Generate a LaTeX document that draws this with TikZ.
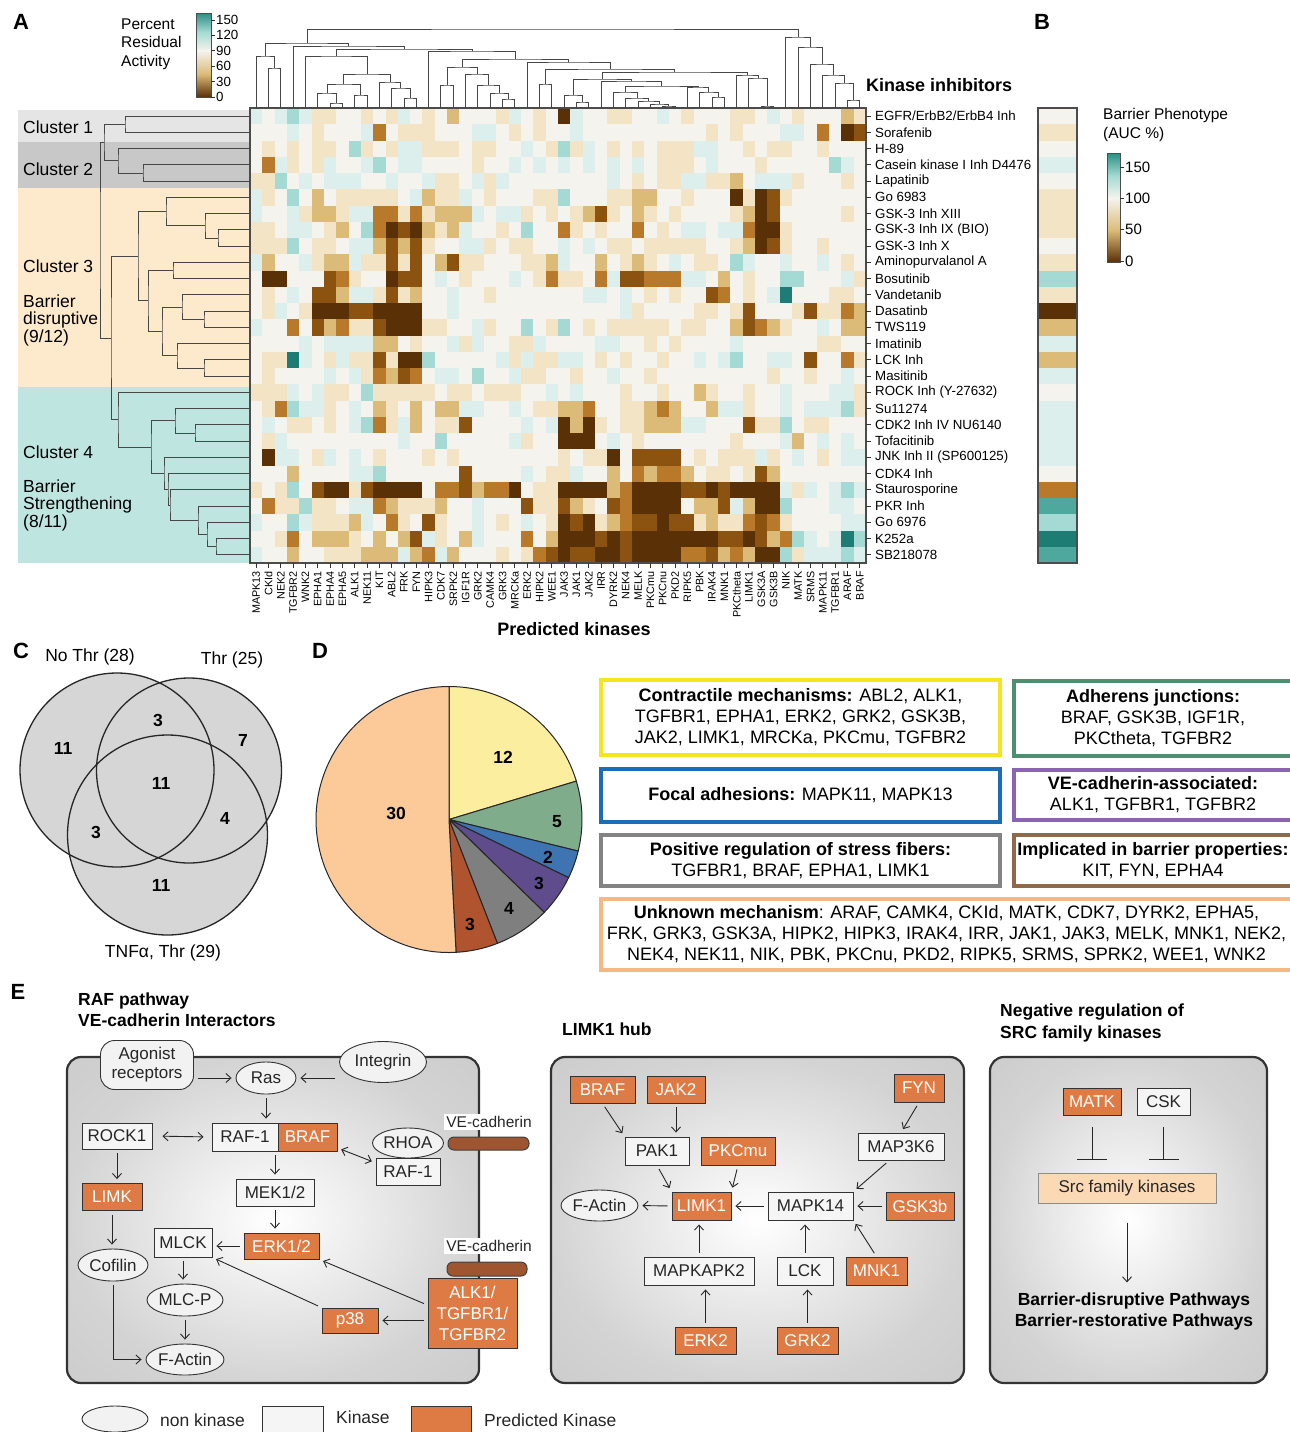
\documentclass[tikz,border=0pt]{standalone}
\usepackage{fontspec}
\setmainfont{Liberation Sans}
\usetikzlibrary{arrows.meta,shapes.geometric,calc}

\definecolor{hm0}{HTML}{5A3007}
\definecolor{hm1}{HTML}{8C520F}
\definecolor{hm2}{HTML}{B8792B}
\definecolor{hm3}{HTML}{DCBB78}
\definecolor{hm4}{HTML}{F2E4C4}
\definecolor{hm5}{HTML}{F5F3EE}
\definecolor{hm6}{HTML}{DDEFEC}
\definecolor{hm7}{HTML}{A4DAD3}
\definecolor{hm8}{HTML}{4FA89E}
\definecolor{hm9}{HTML}{1D7D74}
\definecolor{teal150}{HTML}{2A8E84}
\definecolor{clu1}{HTML}{E5E5E5}
\definecolor{clu2}{HTML}{C8C8C8}
\definecolor{clu3}{HTML}{FDE9CB}
\definecolor{clu4}{HTML}{BFE5E1}
\definecolor{vgray}{HTML}{D6D6D6}
\definecolor{pyel}{HTML}{FBEE9E}
\definecolor{pgrn}{HTML}{7FAD8B}
\definecolor{pblu}{HTML}{3D74B1}
\definecolor{ppur}{HTML}{5E4C8C}
\definecolor{pgry}{HTML}{7F7F7F}
\definecolor{pred}{HTML}{B0532F}
\definecolor{pora}{HTML}{FCC998}
\definecolor{byel}{HTML}{F5E51A}
\definecolor{bgrn}{HTML}{4E8F71}
\definecolor{bblu}{HTML}{1B6DB7}
\definecolor{bpur}{HTML}{8C62B2}
\definecolor{bgry}{HTML}{838383}
\definecolor{bbrn}{HTML}{8E6A4B}
\definecolor{bora}{HTML}{F6B781}
\definecolor{kinorange}{HTML}{DE7B45}
\definecolor{cadbrown}{HTML}{9E5530}
\definecolor{srcfill}{HTML}{FCD9B5}

\pgfdeclareradialshading{panelshade}{\pgfpoint{0bp}{0bp}}{color(0bp)=(white); color(25bp)=(black!17); color(36bp)=(black!20); color(50bp)=(black!20)}

\begin{document}
\begin{tikzpicture}[x=1pt, y=-1pt,
  rowlab/.style={anchor=west, inner sep=0pt, font=\fontsize{13.3}{15}\selectfont},
  collab/.style={anchor=east, rotate=90, inner sep=0pt, font=\fontsize{10.8}{12}\selectfont},
  ticklab/.style={anchor=west, inner sep=0pt, font=\fontsize{13.3}{15}\selectfont},
  legtitle/.style={anchor=west, align=left, inner sep=0pt, font=\fontsize{15.5}{18.5}\selectfont},
  clus/.style={anchor=west, align=left, inner sep=0pt, font=\fontsize{17.5}{17.5}\selectfont},
  axtitle/.style={inner sep=0pt, font=\bfseries\fontsize{18}{20}\selectfont},
  panlet/.style={inner sep=0pt, font=\bfseries\fontsize{22}{24}\selectfont},
  dend/.style={draw=black!72, line width=1pt},
  tk/.style={draw=black!80, line width=1pt},
  hmframe/.style={draw=black!70, line width=1.2pt},
  vennring/.style={draw=black!85, line width=1.3pt},
  vlab/.style={inner sep=0pt, font=\fontsize{17.5}{20}\selectfont},
  vnum/.style={inner sep=0pt, font=\bfseries\fontsize{17.5}{20}\selectfont},
  slice/.style={draw=black!85, line width=1pt},
  catbox/.style={draw, line width=4.5pt, align=center, inner sep=0pt, font=\fontsize{18}{21}\selectfont},
  panel/.style={draw=black!80, line width=2.2pt, rounded corners=14pt, shading=panelshade},
  kin/.style={draw=black!80, fill=black!4, line width=0.9pt, inner sep=1pt, minimum height=27pt, text=black!85, font=\fontsize{17}{19}\selectfont},
  pkin/.style={kin, fill=kinorange, text=white},
  nonkin/.style={ellipse, draw=black!80, fill=black!5, line width=0.9pt, inner sep=0pt, text=black!85, font=\fontsize{17}{19}\selectfont},
  agonbox/.style={draw=black!80, fill=black!5, line width=0.9pt, rounded corners=14pt, align=center, inner sep=1pt, text=black!85, font=\fontsize{17}{19}\selectfont},
  srcbox/.style={draw=black!45, fill=srcfill, line width=1pt, inner sep=1pt, text=black!85, font=\fontsize{17}{19}\selectfont},
  arr/.style={-{Straight Barb[length=5pt,width=9pt]}, draw=black!85, line width=0.9pt, shorten >=4pt, shorten <=4pt},
  arr2/.style={arr, {Straight Barb[length=5pt,width=9pt]}-{Straight Barb[length=5pt,width=9pt]}},
  inh/.style={-{Bar[width=30pt]}, draw=black!85, line width=0.9pt},
  etitle/.style={anchor=west, align=left, inner sep=0pt, font=\bfseries\fontsize{17.5}{21.5}\selectfont},
  cadh/.style={fill=cadbrown, draw=black!75, line width=1pt, rounded corners=6pt},
  cadlab/.style={fill=white, inner sep=2pt, text=black!85, font=\fontsize{15.5}{17}\selectfont},
  leglab/.style={anchor=west, inner sep=0pt, text=black!85, font=\fontsize{17.5}{20}\selectfont}
]
\useasboundingbox (0,0) rectangle (1290,1432);

% ---------------- panel A ----------------
\node[panlet] (letA) at (21,22) {A};
\node[panlet] (letB) at (1042,22) {B};

% colour key
\node[legtitle] (keytitle) at (121,44) {Percent\\Residual\\Activity};
\shade[top color=teal150, bottom color=hm5, middle color=hm7] (196,13) rectangle (211,50.8);
\shade[top color=hm5, bottom color=hm0, middle color=hm3] (196,50.8) rectangle (211,97);
\draw[hmframe, line width=0.8pt] (196,13) rectangle (211,97);
\foreach \val/\yy [count=\k] in {150/20,120/35.4,90/50.8,60/66.2,30/81.6,0/97} {
  \draw[tk] (211,\yy) -- (215,\yy);
  \node[ticklab] (cba\k) at (216,\yy) {\val};
}

% cluster bands
\fill[clu1] (18,110) rectangle (250,141.5);
\fill[clu2] (18,141.5) rectangle (250,188);
\fill[clu3] (18,188) rectangle (250,387);
\fill[clu4] (18,387) rectangle (250,563);
\node[clus] (cl1) at (23,127) {Cluster 1};
\node[clus] (cl2) at (23,169) {Cluster 2};
\node[clus] (cl3) at (23,266) {Cluster 3};
\node[clus] (cl3b) at (23,320) {Barrier\\disruptive\\(9/12)};
\node[clus] (cl4) at (23,452) {Cluster 4};
\node[clus] (cl4b) at (23,505) {Barrier\\Strengthening\\(8/11)};

% heatmap
\foreach \rowvals [count=\i] in {
 {6,5,6,7,6,4,4,5,5,4,5,4,6,5,4,5,3,5,5,5,4,6,5,4,5,0,6,5,5,4,4,5,5,6,5,4,5,5,5,4,4,5,6,5,4,5,5,5,3,4},
 {5,5,5,6,5,4,5,5,5,6,2,5,4,4,4,5,5,5,6,6,5,4,5,4,5,5,6,5,5,5,5,5,5,5,5,5,5,4,5,4,5,5,5,6,6,5,2,5,0,1},
 {5,4,5,4,5,4,4,5,7,4,5,4,6,6,4,4,4,5,4,4,5,5,6,5,4,7,4,6,5,4,5,4,5,4,4,4,6,6,5,5,4,5,4,4,5,5,4,5,5,5},
 {5,2,6,4,5,4,6,5,5,6,7,5,6,6,5,5,5,5,4,5,5,6,5,6,5,6,5,6,5,6,5,6,5,4,4,4,5,6,5,5,5,4,5,5,5,5,5,7,6,5},
 {4,4,7,5,6,5,6,6,6,5,5,6,5,5,6,4,4,5,6,4,6,5,5,5,5,5,5,5,5,6,5,4,5,4,4,6,6,4,4,3,5,6,6,6,4,5,5,5,4,5},
 {6,4,5,7,5,3,5,4,4,4,4,4,5,6,3,4,4,6,5,4,5,5,5,4,4,7,5,5,5,4,4,3,3,5,5,4,5,5,5,0,4,0,1,4,5,5,5,5,5,5},
 {6,5,5,6,4,3,3,4,6,6,2,2,4,2,4,3,3,3,6,5,6,6,4,5,4,5,4,3,1,4,5,3,4,5,4,5,5,5,5,4,3,0,1,5,5,5,5,5,4,5},
 {4,4,5,6,6,5,4,3,5,7,2,0,1,0,3,4,3,6,5,5,4,5,7,5,5,2,4,5,4,5,5,2,5,4,5,6,6,5,6,6,2,0,0,4,5,5,5,5,5,5},
 {4,4,4,7,5,4,4,5,6,6,3,1,3,1,4,5,5,6,6,4,5,4,4,5,5,6,5,6,5,4,4,5,4,4,4,4,4,5,5,4,3,0,1,4,5,5,4,5,5,5},
 {6,3,5,5,6,4,3,3,6,4,4,1,4,1,5,3,1,4,4,5,5,5,4,4,3,6,5,5,3,5,4,3,4,5,6,5,4,4,5,7,6,5,5,6,5,5,6,5,4,5},
 {5,0,0,5,5,5,1,2,4,5,5,0,1,1,5,6,5,4,5,5,5,6,5,4,2,4,4,5,2,6,1,1,2,2,2,6,6,5,3,5,4,5,5,7,7,5,5,5,6,4},
 {5,4,5,6,5,1,1,3,6,6,4,1,4,3,5,5,6,5,5,4,5,5,5,5,5,5,5,6,6,5,6,5,4,5,4,5,5,1,2,5,4,5,6,9,5,5,5,4,4,5},
 {5,4,6,5,4,0,0,0,1,1,0,0,0,0,5,5,6,5,5,5,5,5,5,5,5,5,5,5,5,5,6,4,5,5,5,5,4,4,5,4,1,5,5,5,4,1,4,4,2,3},
 {6,5,5,2,5,1,3,2,4,4,1,0,0,0,4,4,5,5,6,4,5,5,7,5,4,7,5,4,5,4,4,4,4,4,5,4,4,5,5,3,1,2,3,4,5,5,6,5,3,3},
 {5,5,5,5,6,5,6,6,6,6,3,3,5,4,5,5,6,4,6,5,5,4,4,6,5,5,5,5,6,6,5,5,4,5,4,5,5,5,5,6,5,5,5,5,5,5,4,4,5,5},
 {5,4,4,9,6,5,4,6,4,4,1,4,0,0,7,5,5,5,5,5,6,4,6,4,4,6,6,5,4,5,4,5,5,4,5,5,6,5,6,7,5,5,6,6,5,1,5,5,2,4},
 {5,4,5,5,5,5,6,5,6,4,2,3,1,2,5,6,6,5,7,5,5,6,4,4,5,5,4,5,5,6,5,5,4,5,5,5,5,5,5,5,5,5,4,5,5,4,5,5,6,5},
 {4,4,4,6,5,6,4,4,5,7,4,4,4,4,4,5,4,4,5,4,4,4,5,5,6,5,6,5,5,5,4,5,5,4,5,5,3,4,5,5,4,5,5,6,5,5,5,6,6,4},
 {5,4,2,7,6,6,4,5,6,5,3,4,5,3,5,3,3,6,6,5,5,6,5,4,4,3,3,2,5,5,4,4,3,2,3,5,5,3,6,6,4,5,5,6,5,6,6,6,7,4},
 {5,6,5,4,4,5,4,5,6,7,2,4,6,3,5,4,4,1,5,5,5,5,6,5,6,0,3,0,4,5,4,4,3,3,3,6,6,5,5,5,1,4,4,7,5,4,4,5,5,5},
 {5,4,6,5,5,5,5,5,5,5,5,5,6,5,5,7,5,5,5,5,5,6,4,5,5,0,0,0,5,6,5,4,5,5,5,5,5,5,5,4,5,5,5,6,3,5,6,5,6,5},
 {5,0,6,6,5,4,6,5,6,5,4,5,5,5,4,5,4,5,5,5,5,5,5,5,5,4,5,4,4,0,5,1,1,1,1,5,4,5,4,4,4,6,4,5,6,5,4,5,6,6},
 {5,5,5,3,5,5,5,5,6,6,7,5,5,5,5,5,5,1,5,5,5,5,6,5,4,4,6,5,5,3,5,2,3,2,2,3,5,4,4,5,4,1,3,5,5,5,5,5,5,5},
 {4,5,4,7,5,1,0,0,4,1,0,0,0,0,5,2,2,1,3,2,2,0,5,4,4,0,0,0,0,3,2,0,0,0,0,1,1,0,1,0,0,0,0,6,4,6,5,6,7,6},
 {5,2,4,4,7,4,4,5,6,6,2,3,4,4,4,3,5,5,6,5,5,5,1,4,4,1,3,4,5,1,2,0,0,0,0,5,3,3,1,6,3,0,0,7,5,5,5,6,6,5},
 {6,5,5,7,6,4,4,4,3,6,5,2,4,5,1,4,5,5,6,5,4,5,6,5,4,0,1,0,4,3,2,1,1,0,1,1,4,3,4,4,2,1,2,4,5,5,5,5,6,6},
 {5,5,4,2,5,3,3,3,4,5,3,5,3,1,6,4,5,3,6,5,5,5,2,5,3,0,0,0,1,0,1,0,0,0,0,0,0,0,1,1,0,1,3,2,7,6,5,6,9,7},
 {6,5,5,3,5,5,4,4,4,3,3,3,6,3,2,6,3,5,5,5,4,5,4,2,1,0,1,1,0,0,1,0,0,0,0,2,2,1,3,2,3,0,0,7,4,6,6,6,7,6}}{
  \foreach \lv [count=\j] in \rowvals
    \fill[hm\lv] ({250+(\j-1)*12.32},{108+(\i-1)*16.25}) rectangle ++(12.62,16.55);
}
\draw[hmframe] (250,108) rectangle (866,563);

% inhibitor labels
\foreach \lab [count=\i] in {EGFR/ErbB2/ErbB4 Inh, Sorafenib, H-89, Casein kinase I Inh D4476, Lapatinib, Go 6983, GSK-3 Inh XIII, GSK-3 Inh IX (BIO), GSK-3 Inh X, Aminopurvalanol A, Bosutinib, Vandetanib, Dasatinb, TWS119, Imatinib, LCK Inh, Masitinib, ROCK Inh (Y-27632), Su11274, CDK2 Inh IV NU6140, Tofacitinib, JNK Inh II (SP600125), CDK4 Inh, Staurosporine, PKR Inh, Go 6976, K252a, SB218078} {
  \draw[tk] (866,{108+(\i-.5)*16.25}) -- ++(5,0);
  \node[rowlab] (inh\i) at (875,{108+(\i-.5)*16.25}) {\lab};
}

% kinase labels
\foreach \lab [count=\j] in {MAPK13, CKId, NEK2, TGFBR2, WNK2, EPHA1, EPHA4, EPHA5, ALK1, NEK11, KIT, ABL2, FRK, FYN, HIPK3, CDK7, SRPK2, IGF1R, GRK2, CAMK4, GRK3, MRCKa, ERK2, HIPK2, WEE1, JAK3, JAK1, JAK2, IRR, DYRK2, NEK4, MELK, PKCmu, PKCnu, PKD2, RIPK5, PBK, IRAK4, MNK1, PKCtheta, LIMK1, GSK3A, GSK3B, NIK, MATK, SRMS, MAPK11, TGFBR1, ARAF, BRAF} {
  \draw[tk] ({250+(\j-.5)*12.32},563) -- ++(0,5);
  \node[collab] (kin\j) at ({250+(\j-.5)*12.32},571) {\lab};
}
\node[axtitle, anchor=west] (kinhib) at (866,85) {Kinase inhibitors};
\node[axtitle] (predk) at (574,629) {Predicted kinases};

% top dendrogram
\foreach \j in {1,...,50}
  \coordinate (t\j) at ({250+(\j-.5)*12.32},108);
\foreach \nm/\ka/\kb/\hh in {ta/t2/t3/68, tb/t1/ta/56, tc/t7/t8/103, td/t6/tc/93, tk/t9/t10/95, te/td/tk/84,
  tf/t13/t14/98, tg/t12/tf/88, th/t11/tg/82, ti/te/th/74, tj/t5/ti/56,
  m1/t21/t22/99, m2/t20/m1/93, m3/t19/m2/85, m4/t18/m3/74, m5/t16/t17/85, m6/m5/m4/67,
  x2728/t27/t28/102, xP/t26/x2728/95, x3435/t34/t35/106, xVV/t33/x3435/104, xV/t32/xVV/101,
  xU/t31/xV/98, xS/t30/xU/92, x3839/t38/t39/97, xT2/t37/x3839/92, xT/t36/xT2/87, xR/xS/xT/86,
  xQ/t29/xR/81, xZ/xP/xQ/79, x4243/t42/t43/106, xW2/t41/x4243/78, xW/t40/xW2/75, xY/xZ/xW/72,
  x2425/t24/t25/84, xB/x2425/xY/69, xX/t23/xB/62, m7/m6/xX/59, tK/t15/m7/51, tn1/tj/tK/49,
  tL2/t4/tn1/46, tL/tb/tL2/43, r6/t49/t50/100, r5/t48/r6/83, r4/t47/r5/75, r3/t46/r4/64,
  r2/t45/r3/47, rt/t44/r2/37, troot/tL/rt/29} {
  \path let \p1=(\ka), \p2=(\kb) in coordinate (\nm) at ({(\x1+\x2)/2},{-\hh*1pt});
  \draw[dend] (\ka) |- (\nm) -| (\kb);
}

% side dendrogram
\foreach \i in {1,...,28}
  \coordinate (l\i) at (250,{108+(\i-.5)*16.25});
\foreach \nm/\ka/\kb/\hh in {g1/l1/l2/125, g2a/l4/l5/143, g2/l3/g2a/118,
  a89/l8/l9/218, a79/l7/a89/205, gA/l6/a79/166, b1011/l10/l11/173, b1314/l13/l14/204,
  b1214/l12/b1314/182, b1617/l16/l17/204, b1517/l15/b1617/177, b1217/b1214/b1517/162,
  gB/b1011/b1217/148, g3/gA/gB/138, c2021/l20/l21/195, c1921/l19/c2021/175,
  c2728/l27/l28/216, c2628/l26/c2728/207, c2528/l25/c2628/198, c2428/l24/c2528/170,
  c2328/l23/c2428/168, c2228/l22/c2328/164, c1928/c1921/c2228/151, g4/l18/c1928/118,
  g34/g3/g4/111, g12/g1/g2/104, groot/g12/g34/100} {
  \path let \p1=(\ka), \p2=(\kb) in coordinate (\nm) at ({\hh*1pt},{(\y1+\y2)/2});
  \draw[dend] (\ka) -| (\nm) |- (\kb);
}

% barrier phenotype bar
\foreach \lv [count=\i] in {5,4,5,6,5,4,4,4,5,4,7,4,0,3,6,3,6,5,6,6,6,6,5,2,8,7,9,8}
  \fill[hm\lv] (1038,{108+(\i-1)*16.25}) rectangle ++(39,16.55);
\draw[hmframe] (1038,108) rectangle (1077,563);
\node[legtitle] (bptitle) at (1103,125) {Barrier Phenotype\\(AUC \%)};
\shade[top color=teal150, bottom color=hm5, middle color=hm7] (1107,153) rectangle (1120,198.3);
\shade[top color=hm5, bottom color=hm0, middle color=hm3] (1107,198.3) rectangle (1120,262);
\draw[hmframe, line width=0.8pt] (1107,153) rectangle (1120,262);
\foreach \val/\yy [count=\k] in {150/167,100/198.3,50/229.7,0/261} {
  \draw[tk] (1120,\yy) -- (1124,\yy);
  \node[ticklab, font=\fontsize{15}{17}\selectfont] (cbb\k) at (1125,\yy) {\val};
}

% ---------------- panel C ----------------
\node[panlet] (letC) at (21,651) {C};
\fill[vgray] (117,770) circle[radius=97];
\fill[vgray] (189,770.5) circle[radius=92.5];
\fill[vgray] (167.5,835) circle[radius=100];
\draw[vennring] (117,770) circle[radius=97];
\draw[vennring] (189,770.5) circle[radius=92.5];
\draw[vennring] (167.5,835) circle[radius=100];
\node[vlab] (vnothr) at (90,657) {No Thr (28)};
\node[vlab] (vthr) at (232,660) {Thr (25)};
\node[vlab] (vtnf) at (163,953) {TNFα, Thr (29)};
\node[vnum] (v1) at (63,748) {11};
\node[vnum] (v2) at (158,720) {3};
\node[vnum] (v3) at (243,740) {7};
\node[vnum] (v4) at (161,783) {11};
\node[vnum] (v5) at (96,832) {3};
\node[vnum] (v6) at (225,818) {4};
\node[vnum] (v7) at (161,885) {11};

% ---------------- panel D ----------------
\node[panlet] (letD) at (320,651) {D};
\foreach \sa/\sb/\col in {-90/-16.78/pyel, -16.78/13.73/pgrn, 13.73/25.93/pblu, 25.93/44.24/ppur, 44.24/68.65/pgry, 68.65/86.96/pred, 86.96/270/pora}
  \filldraw[slice, fill=\col] (449,819.5) -- ++(\sa:133) arc[start angle=\sa, end angle=\sb, radius=133] -- cycle;
\node[vnum] (pn1) at (503,757) {12};
\node[vnum] (pn2) at (557,822) {5};
\node[vnum] (pn3) at (548,857) {2};
\node[vnum] (pn4) at (539,883) {3};
\node[vnum] (pn5) at (509,908) {4};
\node[vnum] (pn6) at (470,924) {3};
\node[vnum] (pn7) at (396,813) {30};

\node[catbox, draw=byel, minimum width=399pt, minimum height=75pt] (contr) at (800.5,717.5)
  {\textbf{Contractile mechanisms:} ABL2, ALK1,\\TGFBR1, EPHA1, ERK2, GRK2, GSK3B,\\JAK2, LIMK1, MRCKa, PKCmu, TGFBR2};
\node[catbox, draw=bgrn, minimum width=278pt, minimum height=75pt] (adher) at (1153,718.5)
  {\textbf{Adherens junctions:}\\BRAF, GSK3B, IGF1R,\\PKCtheta, TGFBR2};
\node[catbox, draw=bblu, minimum width=399pt, minimum height=53pt] (focal) at (800.5,795.5)
  {\textbf{Focal adhesions:} MAPK11, MAPK13};
\node[catbox, draw=bpur, minimum width=278pt, minimum height=50pt] (vecad) at (1153,795)
  {\textbf{VE-cadherin-associated:}\\ALK1, TGFBR1, TGFBR2};
\node[catbox, draw=bgry, minimum width=399pt, minimum height=51pt] (stress) at (800.5,860.5)
  {\textbf{Positive regulation of stress fibers:}\\TGFBR1, BRAF, EPHA1, LIMK1};
\node[catbox, draw=bbrn, minimum width=278pt, minimum height=51pt] (implic) at (1153,860.5)
  {\textbf{Implicated in barrier properties:}\\KIT, FYN, EPHA4};
\node[catbox, draw=bora, minimum width=691pt, minimum height=71pt] (unknown) at (946.5,934.5)
  {\textbf{Unknown mechanism}: ARAF, CAMK4, CKId, MATK, CDK7, DYRK2, EPHA5,\\FRK, GRK3, GSK3A, HIPK2, HIPK3, IRAK4, IRR, JAK1, JAK3, MELK, MNK1, NEK2,\\NEK4, NEK11, NIK, PBK, PKCnu, PKD2, RIPK5, SRMS, SPRK2, WEE1, WNK2};

% ---------------- panel E ----------------
\node[panlet] (letE) at (18,992) {E};
\node[etitle] (raftitle) at (78,1009.5) {RAF pathway\\VE-cadherin Interactors};
\node[etitle] (limktitle) at (562,1029) {LIMK1 hub};
\node[etitle] (srctitle) at (1000,1023) {Negative regulation of\\SRC family kinases};

\shadedraw[panel] (67,1057) rectangle (479,1383);
\shadedraw[panel] (551,1057) rectangle (964,1383);
\shadedraw[panel] (990,1057) rectangle (1267,1383);

% RAF pathway
\node[agonbox, minimum width=93pt, minimum height=49pt] (agon) at (147,1065) {Agonist\\receptors};
\node[nonkin, minimum width=87pt, minimum height=41pt] (integ) at (383,1062) {Integrin};
\node[nonkin, minimum width=60pt, minimum height=32pt] (ras) at (266,1078) {Ras};
\node[kin, minimum width=66pt, minimum height=28pt] (raf1) at (245,1137) {RAF-1};
\node[pkin, minimum width=59pt, minimum height=28pt] (braf1) at (307.5,1137) {BRAF};
\node[kin, minimum width=70pt, minimum height=26pt] (rock) at (117,1136) {ROCK1};
\node[nonkin, minimum width=71pt, minimum height=30pt] (rhoa) at (408,1143) {RHOA};
\node[kin, minimum width=64pt, minimum height=27pt] (raf1b) at (408,1171.5) {RAF-1};
\node[cadlab] (vec1) at (489,1122) {VE-cadherin};
\draw[cadh] (448,1137) rectangle (529,1150);
\node[pkin, minimum width=60pt, minimum height=27pt] (limk) at (112,1197) {LIMK};
\node[nonkin, minimum width=70pt, minimum height=32pt] (cof) at (113,1265) {Cofilin};
\node[kin, minimum width=78pt, minimum height=27pt] (mek) at (275,1192.5) {MEK1/2};
\node[pkin, minimum width=75pt, minimum height=26pt] (erk12) at (281.5,1246) {ERK1/2};
\node[kin, minimum width=58pt, minimum height=29pt] (mlck) at (183,1242.5) {MLCK};
\node[nonkin, minimum width=76pt, minimum height=32pt] (mlcp) at (185,1300) {MLC-P};
\node[nonkin, minimum width=78pt, minimum height=31pt] (fact1) at (185,1359.5) {F-Actin};
\node[cadlab] (vec2) at (489,1246) {VE-cadherin};
\draw[cadh] (447,1262) rectangle (527,1276);
\node[pkin, align=center, minimum width=89pt, minimum height=70pt, font=\fontsize{17}{21}\selectfont] (alk) at (472.5,1313) {ALK1/\\TGFBR1/\\TGFBR2};
\node[pkin, minimum width=56pt, minimum height=25pt] (p38) at (350,1320.5) {p38};

\draw[arr] (agon.east |- ras) -- (ras.west);
\draw[arr] (integ.west |- ras) -- (ras.east);
\draw[arr] (ras.south) -- (ras.south |- raf1.north);
\draw[arr2, shorten <=10pt, shorten >=8pt] (rock.east) -- (raf1.west);
\draw[arr2] (braf1.-20) -- (raf1b.165);
\draw[arr] (rock.south) -- (rock.south |- limk.north);
\draw[arr] (limk.south) -- (limk.south |- cof.north);
\draw[arr] (mek.north |- raf1.south) -- (mek.north);
\draw[arr] (mek.south) -- (mek.south |- erk12.north);
\draw[arr] (erk12.west) -- (erk12.west -| mlck.east);
\draw[arr] (mlck.south) -- (mlck.south |- mlcp.north);
\draw[arr] (mlcp.south) -- (fact1.north);
\draw[arr] (cof.south) |- (fact1.west);
\draw[arr] (alk.170) -- (erk12.south east);
\draw[arr] (alk.west |- p38) -- (p38.east);
\draw[arr] (p38.north west) -- (mlck.south east);

% LIMK1 hub
\node[pkin, minimum width=65pt] (braf2) at (602.5,1089.5) {BRAF};
\node[pkin, minimum width=58pt] (jak2) at (676,1089.5) {JAK2};
\node[pkin, minimum width=50pt, minimum height=28pt] (fyn) at (919,1088) {FYN};
\node[kin, minimum width=64pt, minimum height=28pt] (pak1) at (657,1151) {PAK1};
\node[pkin, minimum width=74pt, minimum height=28pt] (pkcmu) at (738,1151) {PKCmu};
\node[kin, minimum width=86pt] (map3k6) at (901,1146.5) {MAP3K6};
\node[nonkin, minimum width=77pt, minimum height=31pt] (fact2) at (599.5,1205.5) {F-Actin};
\node[pkin, minimum width=59pt, minimum height=28pt] (limk1) at (701.5,1206) {LIMK1};
\node[kin, minimum width=85pt, minimum height=28pt] (mapk14) at (810.5,1206) {MAPK14};
\node[pkin, minimum width=68pt, minimum height=28pt] (gsk3b) at (920,1206) {GSK3b};
\node[kin, minimum width=110pt, minimum height=28pt] (mapkapk2) at (699,1271) {MAPKAPK2};
\node[kin, minimum width=56pt, minimum height=28pt] (lck) at (805,1271) {LCK};
\node[pkin, minimum width=61pt, minimum height=28pt] (mnk1) at (876.5,1271) {MNK1};
\node[pkin, minimum width=61pt] (erk2) at (705.5,1340.5) {ERK2};
\node[pkin, minimum width=61pt] (grk2) at (807.5,1340.5) {GRK2};

\draw[arr] (braf2.south) -- (pak1.north west);
\draw[arr] (jak2.south) -- (jak2.south |- pak1.north);
\draw[arr] (fyn.south) -- (map3k6.north);
\draw[arr] (pak1.south) -- (limk1.north west);
\draw[arr] (pkcmu.south) -- (limk1.north east);
\draw[arr] (map3k6.-130) -- (mapk14.north east);
\draw[arr] (limk1.west) -- (fact2.east);
\draw[arr] (mapk14.west) -- (limk1.east);
\draw[arr] (gsk3b.west) -- (mapk14.east);
\draw[arr] (mapkapk2.north) -- (mapkapk2.north |- limk1.south);
\draw[arr] (lck.north) -- (lck.north |- mapk14.south);
\draw[arr] (mnk1.north) -- (mapk14.south east);
\draw[arr] (erk2.north) -- (erk2.north |- mapkapk2.south);
\draw[arr] (grk2.north) -- (grk2.north |- lck.south);

% SRC family
\node[pkin, minimum width=58pt] (matk) at (1092,1101.5) {MATK};
\node[kin, minimum width=53pt] (csk) at (1163.5,1101.5) {CSK};
\node[srcbox, minimum width=178pt, minimum height=30pt] (src) at (1127,1188) {Src family kinases};
\node[etitle, anchor=center, align=center] (bpath) at (1134,1311.5) {Barrier-disruptive Pathways\\Barrier-restorative Pathways};
\draw[inh, shorten <=12pt, shorten >=13pt] (matk.south) -- (matk.south |- src.north);
\draw[inh, shorten <=12pt, shorten >=13pt] (csk.south) -- (csk.south |- src.north);
\draw[arr, shorten <=19pt, shorten >=10pt] (src.south) -- (src.south |- bpath.north);

% legend
\node[nonkin, minimum width=66pt, minimum height=26pt] (lgnon) at (115,1419) {};
\node[leglab] (lgnontxt) at (160,1420) {non kinase};
\node[kin, minimum width=61pt, minimum height=30pt] (lgkin) at (292.5,1421) {};
\node[leglab] (lgkintxt) at (336,1417) {Kinase};
\node[pkin, minimum width=60pt, minimum height=30pt] (lgpk) at (441,1421) {};
\node[leglab] (lgpktxt) at (484,1420) {Predicted Kinase};
\end{tikzpicture}
\end{document}
